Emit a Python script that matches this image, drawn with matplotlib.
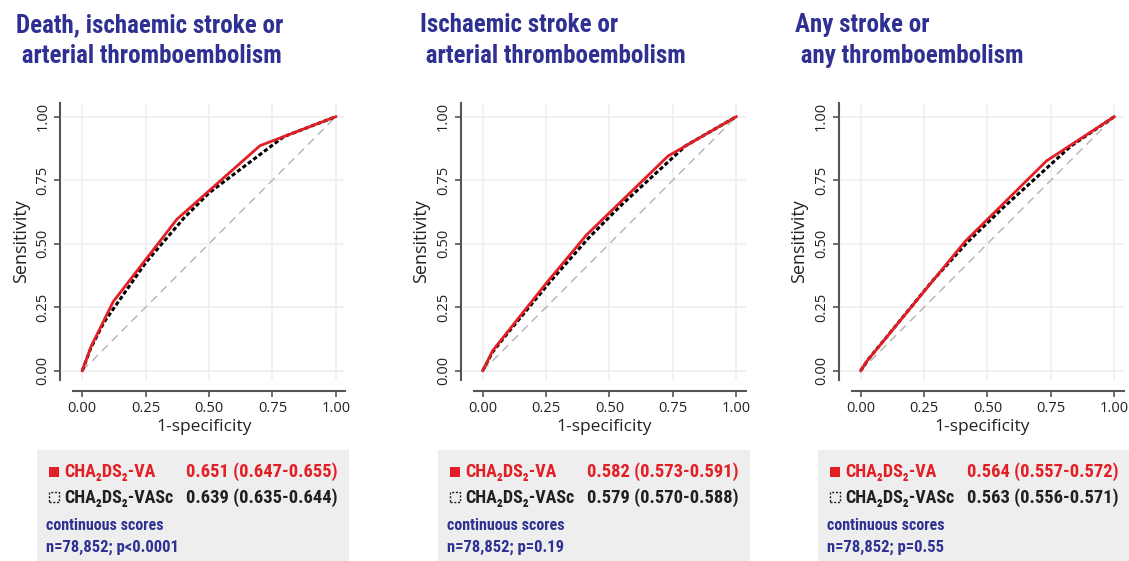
import matplotlib
matplotlib.use("Agg")
import matplotlib.pyplot as plt
from matplotlib import font_manager as fm
from matplotlib.patches import Rectangle

# ---------------- data ----------------
title_line1 = ["Death, ischaemic stroke or", "Ischaemic stroke or", "Any stroke or"]
title_line2 = [" arterial thromboembolism", " arterial thromboembolism", " any thromboembolism"]

va_fpr = [[0, 0.034, 0.122, 0.373, 0.701, 1.0],
          [0, 0.040, 0.252, 0.409, 0.731, 1.0],
          [0, 0.020, 0.411, 0.733, 1.0]]
va_tpr = [[0, 0.094, 0.272, 0.596, 0.886, 1.0],
          [0, 0.080, 0.346, 0.534, 0.845, 1.0],
          [0, 0.032, 0.508, 0.826, 1.0]]

vasc_fpr = [[0, 0.034, 0.085, 0.25, 0.40, 0.50, 0.794, 1.0],
            [0, 0.04, 0.10, 0.27, 0.42, 0.55, 0.80, 1.0],
            [0, 0.03, 0.10, 0.28, 0.42, 0.56, 0.83, 1.0]]
vasc_tpr = [[0, 0.09, 0.19, 0.425, 0.60, 0.70, 0.921, 1.0],
            [0, 0.075, 0.15, 0.355, 0.525, 0.655, 0.885, 1.0],
            [0, 0.045, 0.13, 0.35, 0.505, 0.64, 0.885, 1.0]]

va_auc = ["0.651 (0.647-0.655)", "0.582 (0.573-0.591)", "0.564 (0.557-0.572)"]
vasc_auc = ["0.639 (0.635-0.644)", "0.579 (0.570-0.588)", "0.563 (0.556-0.571)"]
stats = ["n=78,852; p<0.0001", "n=78,852; p=0.19", "n=78,852; p=0.55"]
ticks = [0.0, 0.25, 0.5, 0.75, 1.0]
tick_labels = ["0.00", "0.25", "0.50", "0.75", "1.00"]

# ---------------- fonts ----------------
names = {f.name for f in fm.fontManager.ttflist}
cond = None
for cand in ["Roboto Condensed", "Liberation Sans Narrow", "Open Sans Condensed",
             "DejaVu Sans Condensed"]:
    if cand in names:
        cond = cand
        break
if cond is None:
    cond = "DejaVu Sans"
COND = [cond, "DejaVu Sans"]
REG = ["Open Sans", "DejaVu Sans"]

BLUE = "#2e3192"
RED = "#e31e24"
DARK = "#231f20"

W, H = 1129, 561
fig = plt.figure(figsize=(W / 100, H / 100), dpi=100)


def fx(px):
    return px / W


def fy(py):
    return 1 - py / H


x0s = [82.3, 482.7, 860.7]
unit = 253.5
y0p, y1p = 370.7, 116.7
yunit = y0p - y1p
xl = (-0.076, 1.037)
yl = ((y0p - 380) / yunit, (y0p - 103) / yunit)
box_left = [37, 438, 818]
title_x = [16, 420, 795]

for i in range(3):
    left_px = x0s[i] + xl[0] * unit
    w_px = (xl[1] - xl[0]) * unit
    ax = fig.add_axes([fx(left_px), fy(380), fx(w_px), (380 - 103) / H])
    ax.set_xlim(*xl)
    ax.set_ylim(*yl)
    ax.set_facecolor("white")
    ax.grid(True, color="#efefef", lw=1.2)
    ax.set_axisbelow(True)
    ax.plot([0, 1], [0, 1], color="#b3b3b3", lw=1.0, ls=(0, (6, 4)))
    ax.plot(vasc_fpr[i], vasc_tpr[i], color="black", lw=2.2, ls=(0, (1.4, 0.8)))
    ax.plot(va_fpr[i], va_tpr[i], color=RED, lw=2.0)
    for s in ["top", "right"]:
        ax.spines[s].set_visible(False)
    ax.spines["left"].set_position(("outward", 2))
    ax.spines["bottom"].set_position(("outward", 8))
    ax.spines["bottom"].set_bounds(-0.035, xl[1])
    for s in ["left", "bottom"]:
        ax.spines[s].set_color("#555555")
        ax.spines[s].set_linewidth(1.5)
    ax.set_xticks(ticks)
    ax.set_xticklabels(tick_labels)
    ax.set_yticks(ticks)
    ax.set_yticklabels(tick_labels, rotation=90, va="center")
    ax.tick_params(length=4, width=1.2, color="#555555", labelsize=10.5,
                   labelcolor="#222222", pad=3)
    for lab in ax.get_xticklabels() + ax.get_yticklabels():
        lab.set_family(REG)
    ax.set_xlabel("1-specificity", fontsize=12.5, family=REG, color="#222222",
                  labelpad=2)
    ax.set_ylabel("Sensitivity", fontsize=13, family=REG, color="#222222",
                  labelpad=4)

    # title
    fig.text(fx(title_x[i]), fy(32), title_line1[i], ha="left", va="baseline",
             fontsize=18, fontweight="bold", family=COND, color=BLUE)
    fig.text(fx(title_x[i]), fy(63), title_line2[i], ha="left", va="baseline",
             fontsize=18, fontweight="bold", family=COND, color=BLUE)

    # info box
    bl = box_left[i]
    fig.patches.append(Rectangle((fx(bl), 0), fx(312), fy(450),
                                 transform=fig.transFigure,
                                 facecolor="#eeeeee", edgecolor="none"))
    fig.patches.append(Rectangle((fx(bl + 12), fy(477)), fx(10), 10 / H,
                                 transform=fig.transFigure,
                                 facecolor=RED, edgecolor="none"))
    fig.patches.append(Rectangle((fx(bl + 12), fy(502)), fx(10), 10 / H,
                                 transform=fig.transFigure,
                                 facecolor="none", edgecolor=DARK, lw=1.0,
                                 ls=(0, (1.5, 1.2))))
    fig.text(fx(bl + 27), fy(477), "CHA₂DS₂-VA", fontsize=13,
             fontweight="bold", family=COND, color=RED, va="baseline")
    fig.text(fx(bl + 149), fy(477), va_auc[i], fontsize=13.3,
             fontweight="bold", family=COND, color=RED, va="baseline")
    fig.text(fx(bl + 27), fy(503), "CHA₂DS₂-VASc", fontsize=13,
             fontweight="bold", family=COND, color=DARK, va="baseline")
    fig.text(fx(bl + 149), fy(503), vasc_auc[i], fontsize=13.3,
             fontweight="bold", family=COND, color=DARK, va="baseline")
    fig.text(fx(bl + 9), fy(530), "continuous scores", fontsize=11.5,
             fontweight="bold", family=COND, color=BLUE, va="baseline")
    fig.text(fx(bl + 9), fy(552), stats[i], fontsize=12,
             fontweight="bold", family=COND, color=BLUE, va="baseline")

fig.savefig("out.png", dpi=100, facecolor="white")
